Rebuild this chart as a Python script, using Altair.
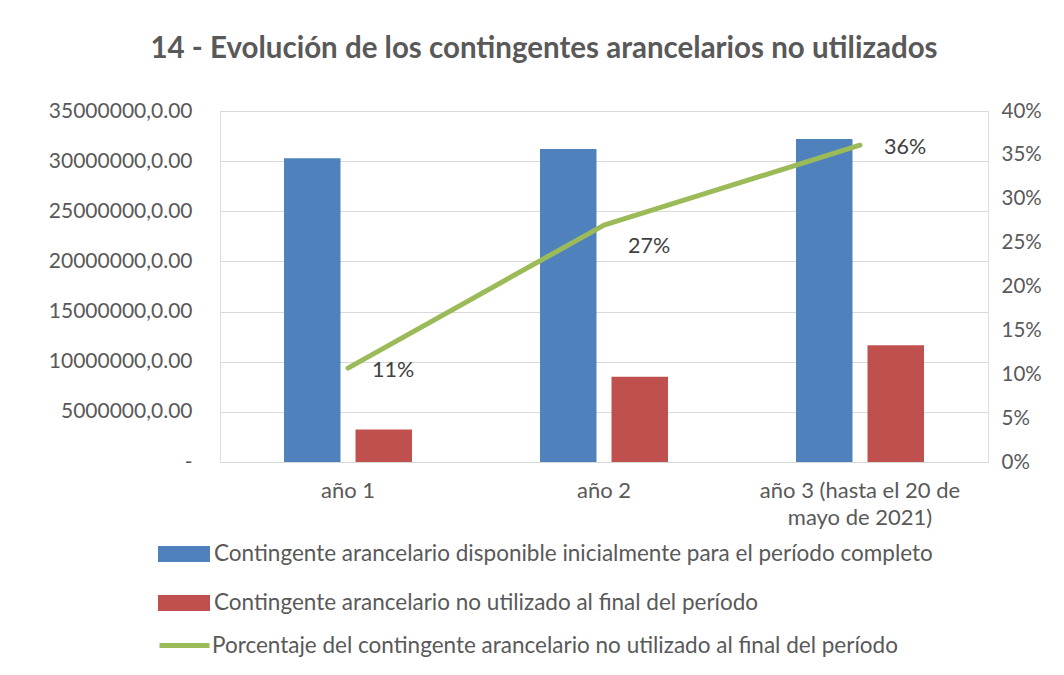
import altair as alt
import pandas as pd

categorias = ["año 1", "año 2", "año 3 (hasta el 20 de mayo de 2021)"]
disponible = [30300000, 31200000, 32200000]
no_utilizado = [3250000, 8500000, 11650000]
porcentaje = [0.107, 0.270, 0.361]
etiquetas_pct = ["11%", "27%", "36%"]

serie_disp = "Contingente arancelario disponible inicialmente para el período completo"
serie_nout = "Contingente arancelario no utilizado al final del período"
serie_pct = "Porcentaje del contingente arancelario no utilizado al final del período"

y_ticks = [0, 5000000, 10000000, 15000000, 20000000, 25000000, 30000000, 35000000]
pct_ticks = [0, 0.05, 0.10, 0.15, 0.20, 0.25, 0.30, 0.35, 0.40]

bars_df = pd.DataFrame({
    "categoria": categorias * 2,
    "serie": [serie_disp] * 3 + [serie_nout] * 3,
    "valor": disponible + no_utilizado,
})
line_df = pd.DataFrame({
    "categoria": categorias,
    "serie": [serie_pct] * 3,
    "pct": porcentaje,
    "etiqueta": etiquetas_pct,
})

FONT = "Lato"
GRAY = "#595959"

x_enc = alt.X(
    "categoria:N",
    sort=categorias,
    scale=alt.Scale(paddingInner=0.5, paddingOuter=0.25),
    axis=alt.Axis(
        title=None, labelAngle=0, ticks=False, domainColor="#d9d9d9",
        labelFontSize=22, labelColor=GRAY, labelFont=FONT, labelPadding=18,
        labelLineHeight=27, labelLimit=500,
        labelExpr="datum.label == 'año 3 (hasta el 20 de mayo de 2021)' ? ['año 3 (hasta el 20 de', 'mayo de 2021)'] : datum.label",
    ),
)

bars = alt.Chart(bars_df).mark_bar().encode(
    x=x_enc,
    xOffset=alt.XOffset("serie:N", sort=[serie_disp, serie_nout],
                        scale=alt.Scale(paddingInner=0.21, paddingOuter=0)),
    y=alt.Y(
        "valor:Q",
        scale=alt.Scale(domain=[0, 35000000], nice=False),
        axis=alt.Axis(
            title=None, values=y_ticks, orient="left", ticks=False, domain=False,
            grid=True, gridColor="#d9d9d9", gridWidth=1.2,
            labelFontSize=21, labelColor=GRAY, labelFont=FONT, labelPadding=28,
            labelExpr="datum.value == 0 ? '-' : datum.value + ',0.00'",
        ),
    ),
    color=alt.Color(
        "serie:N",
        sort=[serie_disp, serie_nout],
        scale=alt.Scale(domain=[serie_disp, serie_nout], range=["#4f81bd", "#c0504d"]),
        legend=alt.Legend(
            title=None, orient="none", legendX=-62, legendY=417, direction="vertical",
            symbolType="M-1,-0.31H1V0.31H-1Z", symbolSize=2704, symbolStrokeWidth=0,
            labelFontSize=22.5, labelColor=GRAY, labelFont=FONT, labelOffset=4,
            rowPadding=11, padding=0, labelLimit=900,
        ),
    ),
)

y_pct = alt.Y(
    "pct:Q",
    scale=alt.Scale(domain=[0, 0.4], nice=False),
    axis=alt.Axis(
        title=None, values=pct_ticks, orient="right", ticks=False, domain=False,
        grid=False, format=".0%", labelFontSize=20.5, labelColor=GRAY,
        labelFont=FONT, labelPadding=13,
    ),
)

line = alt.Chart(line_df).mark_line(strokeWidth=5, strokeCap="round", strokeJoin="round").encode(
    x=alt.X("categoria:N", sort=categorias),
    y=y_pct,
    stroke=alt.Stroke(
        "serie:N",
        scale=alt.Scale(domain=[serie_pct], range=["#9bbb59"]),
        legend=alt.Legend(
            title=None, orient="none", legendX=-63, legendY=507,
            symbolType="stroke", symbolSize=2500, symbolStrokeWidth=5,
            labelFontSize=22.5, labelColor=GRAY, labelFont=FONT, labelOffset=0,
            padding=0, labelLimit=900,
        ),
    ),
)

text_main = alt.Chart(line_df).transform_filter(
    "datum.etiqueta != '27%'"
).mark_text(align="left", baseline="middle", dx=24, dy=3, fontSize=21.5,
            color="#404040", font=FONT).encode(
    x=alt.X("categoria:N", sort=categorias),
    y=alt.Y("pct:Q", scale=alt.Scale(domain=[0, 0.4], nice=False)),
    text="etiqueta:N",
)
text_mid = alt.Chart(line_df).transform_filter(
    "datum.etiqueta == '27%'"
).mark_text(align="left", baseline="middle", dx=24, dy=22, fontSize=21.5,
            color="#404040", font=FONT).encode(
    x=alt.X("categoria:N", sort=categorias),
    y=alt.Y("pct:Q", scale=alt.Scale(domain=[0, 0.4], nice=False)),
    text="etiqueta:N",
)

right = alt.layer(line, text_main, text_mid)

chart = alt.layer(bars, right).resolve_scale(
    y="independent", color="independent", stroke="independent"
).properties(
    width=768,
    height=351,
    padding={"left": 212, "top": 103, "right": 68, "bottom": 205},
    autosize=alt.AutoSizeParams(type="none"),
    title=alt.TitleParams(
        "14 - Evolución de los contingentes arancelarios no utilizados",
        fontSize=29.5, font=FONT, fontWeight="bold", color=GRAY,
        anchor="middle", dx=-60, offset=36,
    ),
).configure_view(stroke=None).configure(background="white")

chart.save("out.html", embed_options={"renderer": "svg", "actions": False})
